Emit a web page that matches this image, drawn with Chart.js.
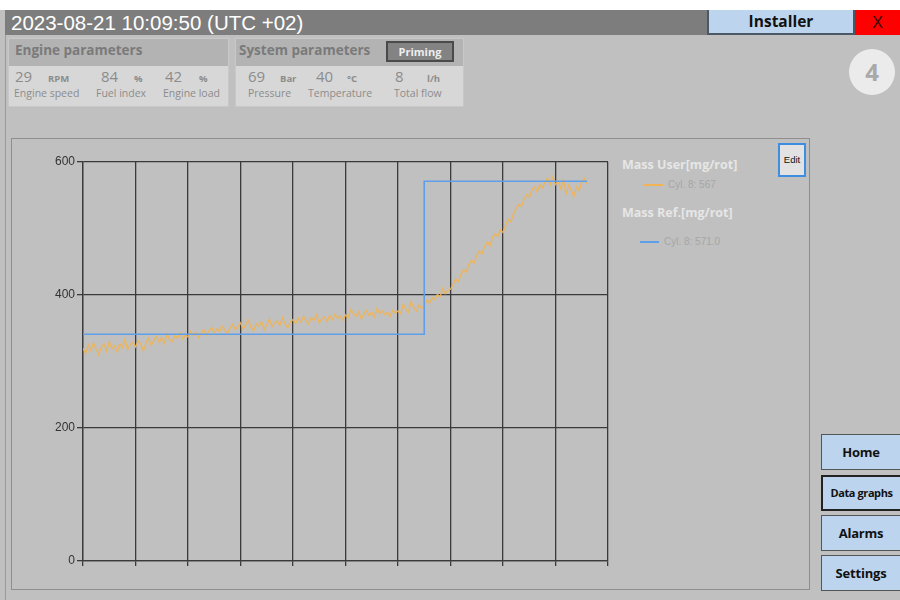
<!DOCTYPE html>
<html lang="en">
<head>
    <meta charset="UTF-8">
    <title>Data graphs</title>
    <script src="https://cdn.jsdelivr.net/npm/chart.js"></script>
    <style>
        body {
            margin: 0;
            width: 900px;
            height: 600px;
            overflow: hidden;
            position: relative;
            background: #c0c0c0;
            font-family: 'Liberation Sans', Arial, sans-serif;
        }
        .abs { position: absolute; }
        .topwhite { left: 0; top: 0; width: 900px; height: 10px; background: #fff; }
        .titlebar {
            left: 5px; top: 10px; width: 702px; height: 25px;
            background: #7d7d7d; color: #fff; font-size: 20.5px; line-height: 25px;
            padding-left: 6px; box-sizing: border-box;
        }
        .installer {
            left: 707px; top: 10px; width: 148px; height: 25px; box-sizing: border-box;
            background: #bcd4ee; border: 2px solid #4b5866; border-top: none;
            font: bold 15.5px 'Open Sans', sans-serif; text-align: center; line-height: 23px; color: #111;
        }
        .close {
            left: 855px; top: 10px; width: 45px; height: 25px;
            background: #ff0000; color: #300; font-size: 16px; text-align: center; line-height: 25px;
        }
        .outer { left: 5px; top: 35px; width: 1px; height: 565px; background: #9a9a9a; }
        .panel { top: 38px; height: 69px; background: #d7d7d7; border: 1px solid #c8c8c8; box-sizing: border-box; }
        .panel .head {
            position: absolute; left: 0; top: 0; right: 0; height: 27px; background: #b3b3b3;
            font: bold 13.5px 'Open Sans', sans-serif; color: #7a7a7a; padding-left: 6px; line-height: 22px;
        }
        .val { font: 15px 'Open Sans', sans-serif; color: #8c8c8c; top: 27px; }
        .unit { font: bold 9.5px 'Open Sans', sans-serif; color: #8c8c8c; top: 33px; }
        .lbl { font: 10.5px 'Open Sans', sans-serif; color: #8c8c8c; top: 47px; }
        .priming {
            left: 150px; top: 2px; width: 68px; height: 21px; box-sizing: border-box;
            background: #838383; border: 2px solid #4a4a4a; color: #eee;
            font: bold 11px 'Open Sans', sans-serif; text-align: center; line-height: 17px;
        }
        .circle {
            left: 849px; top: 49px; width: 46px; height: 46px; border-radius: 50%;
            background: #ebebeb; color: #a9a9a9; font: bold 24px 'Open Sans', sans-serif;
            text-align: center; line-height: 46px;
        }
        .frame { left: 11px; top: 138px; width: 799px; height: 452px; box-sizing: border-box; border: 1px solid #8e8e8e; }
        .edit {
            left: 778px; top: 143px; width: 28px; height: 34px; box-sizing: border-box;
            background: #e2e2e2; border: 2px solid #3d8de0; font-size: 9.5px; color: #111;
            text-align: center; line-height: 30px;
        }
        .legtitle { font: bold 12.5px 'Open Sans', sans-serif; color: #e6e6e6; left: 622px; }
        .legline { height: 2px; width: 19px; }
        .legtext { font-size: 10px; color: #a6a6a6; }
        .nav {
            left: 821px; width: 79px; height: 36px; box-sizing: border-box;
            background: #bcd4ee; border: 1px solid #555; border-right: none;
            font: bold 13px 'Open Sans', sans-serif; color: #111; white-space: nowrap;
            text-align: center; line-height: 34px; letter-spacing: -0.2px;
        }
        .chart-box { left: 20px; top: 150px; width: 590px; height: 421px; }
    </style>
</head>
<body>
    <div class="abs topwhite"></div>
    <div class="abs titlebar">2023-08-21 10:09:50 (UTC +02)</div>
    <div class="abs installer">Installer</div>
    <div class="abs close">X</div>
    <div class="abs outer"></div>

    <!-- Engine parameters -->
    <div class="abs panel" style="left:8px; width:221px;">
        <div class="head">Engine parameters</div>
        <div class="abs val" style="left:6px;">29</div>
        <div class="abs unit" style="left:39px;">RPM</div>
        <div class="abs val" style="left:92px;">84</div>
        <div class="abs unit" style="left:125px;">%</div>
        <div class="abs val" style="left:156px;">42</div>
        <div class="abs unit" style="left:190px;">%</div>
        <div class="abs lbl" style="left:5px;">Engine speed</div>
        <div class="abs lbl" style="left:87px;">Fuel index</div>
        <div class="abs lbl" style="left:154px;">Engine load</div>
    </div>

    <!-- System parameters -->
    <div class="abs panel" style="left:235px; width:229px;">
        <div class="head" style="padding-left:3px;">System parameters</div>
        <div class="abs priming">Priming</div>
        <div class="abs val" style="left:12px;">69</div>
        <div class="abs unit" style="left:44px;">Bar</div>
        <div class="abs val" style="left:80px;">40</div>
        <div class="abs unit" style="left:111px;">°C</div>
        <div class="abs val" style="left:159px;">8</div>
        <div class="abs unit" style="left:191px;">l/h</div>
        <div class="abs lbl" style="left:12px;">Pressure</div>
        <div class="abs lbl" style="left:72px;">Temperature</div>
        <div class="abs lbl" style="left:158px;">Total flow</div>
    </div>

    <div class="abs circle">4</div>

    <!-- Graph frame -->
    <div class="abs frame"></div>
    <div class="abs edit">Edit</div>

    <div class="abs legtitle" style="top:156px;">Mass User[mg/rot]</div>
    <div class="abs legline" style="left:644px; top:184px; background:#f0b455;"></div>
    <div class="abs legtext" style="left:668px; top:179px;" id="userLegend"></div>
    <div class="abs legtitle" style="top:204px;">Mass Ref.[mg/rot]</div>
    <div class="abs legline" style="left:640px; top:241px; background:#5f9ee8;"></div>
    <div class="abs legtext" style="left:664px; top:236px;" id="refLegend"></div>

    <div class="abs chart-box">
        <canvas id="massChart"></canvas>
    </div>

    <div class="abs nav" style="top:434px;">Home</div>
    <div class="abs nav" style="top:475px; border:2px solid #222; border-right:none; font-size:11px; line-height:32px; letter-spacing:-0.4px;">Data graphs</div>
    <div class="abs nav" style="top:515px;">Alarms</div>
    <div class="abs nav" style="top:555px;">Settings</div>

    <script>
        // Mass User, cylinder 8 - one sample every 0.5 x-units
        const userStep = 0.5;
        const userMass = [
            320, 312, 325, 316, 328, 318, 310, 322, 326, 315, 330, 319, 324, 314, 327, 321, 333, 318, 325, 329,
            322, 331, 326, 316, 328, 335, 324, 332, 338, 329, 336, 327, 341, 333, 330, 339, 335, 343, 334, 340,
            337, 345, 339, 344, 336, 342, 348, 340, 346, 351, 343, 349, 345, 353, 347, 342, 350, 356, 348, 352,
            358, 349, 355, 362, 351, 346, 357, 353, 360, 348, 355, 364, 352, 358, 361, 354, 366, 356, 351, 360,
            363, 357, 365, 359, 368, 361, 356, 366, 362, 370, 358, 364, 367, 360, 369, 363, 371, 365, 368, 362,
            370, 366, 378, 372, 368, 375, 364, 371, 377, 369, 374, 367, 380, 372, 376, 370, 374, 368, 377, 373,
            376, 372, 386, 378, 374, 390, 381, 376, 385, 380,
            383, 392, 388, 396, 393, 401, 397, 410, 402, 406,
            409, 416, 424, 420, 431, 438, 434, 446, 452, 448, 459, 466, 462, 473, 480, 474, 486, 492, 488, 498,
            494, 505, 514, 510, 522, 530, 536, 533, 544, 551, 547, 558, 562, 555, 566, 561, 570, 576, 566, 578,
            566, 571, 560, 574, 552, 565, 558, 548, 563, 557, 570, 575, 567
        ];

        // Mass Ref, cylinder 8 - step setpoint
        const refX = [0, 65, 65, 96];
        const refMass = [341, 341, 571, 571];

        const yTicks = [0, 200, 400, 600];

        const userPoints = userMass.map((v, i) => ({ x: i * userStep, y: v }));
        const refPoints = refMass.map((v, i) => ({ x: refX[i], y: v }));

        document.getElementById('userLegend').textContent = 'Cyl. 8: ' + userMass[userMass.length - 1];
        document.getElementById('refLegend').textContent = 'Cyl. 8: ' + refMass[refMass.length - 1].toFixed(1);

        const gridColor = '#3a3a3a';

        new Chart(document.getElementById('massChart'), {
            type: 'line',
            data: {
                datasets: [
                    {
                        label: 'Mass Ref.[mg/rot]',
                        data: refPoints,
                        borderColor: '#5f9ee8',
                        borderWidth: 1.6,
                        pointRadius: 0,
                        tension: 0
                    },
                    {
                        label: 'Mass User[mg/rot]',
                        data: userPoints,
                        borderColor: 'rgba(240, 180, 85, 0.9)',
                        borderWidth: 1.4,
                        pointRadius: 0,
                        tension: 0
                    }
                ]
            },
            options: {
                responsive: true,
                maintainAspectRatio: false,
                animation: false,
                layout: { padding: { top: 12, right: 2, left: 0, bottom: 0 } },
                plugins: {
                    legend: { display: false },
                    tooltip: { enabled: false }
                },
                scales: {
                    x: {
                        type: 'linear',
                        min: 0,
                        max: 100,
                        ticks: { stepSize: 10, display: false },
                        grid: { color: gridColor, lineWidth: 1.3, tickLength: 5 },
                        border: { color: gridColor, width: 1.3 },
                        afterFit: (scale) => { scale.height = 10; }
                    },
                    y: {
                        min: yTicks[0],
                        max: yTicks[yTicks.length - 1],
                        afterBuildTicks: (scale) => { scale.ticks = yTicks.map(v => ({ value: v })); },
                        ticks: {
                            color: '#333',
                            padding: 2,
                            font: { family: 'Liberation Sans', size: 12 }
                        },
                        grid: { color: gridColor, lineWidth: 1.3, tickLength: 6 },
                        border: { color: gridColor, width: 1.3 },
                        afterFit: (scale) => { scale.width = 63; }
                    }
                }
            }
        });
    </script>
</body>
</html>
